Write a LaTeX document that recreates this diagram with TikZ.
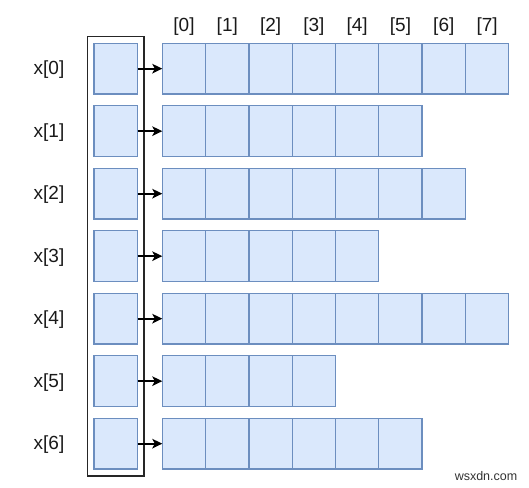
\documentclass[tikz,border=0pt]{standalone}
\usepackage{fontspec}
\setmainfont{Liberation Sans}
\usetikzlibrary{arrows.meta}
\definecolor{cellfill}{HTML}{DAE8FC}
\definecolor{celldraw}{HTML}{6C8EBF}
\tikzset{
  cell/.style={draw=celldraw, fill=cellfill, line width=1.3pt, minimum width=43.3pt, minimum height=50.7pt, inner sep=0pt, outer sep=0pt, anchor=north west},
  ptr/.style={draw=celldraw, fill=cellfill, line width=1.3pt, minimum width=43.7pt, minimum height=50.7pt, inner sep=0pt, outer sep=0pt, anchor=north west},
  frame/.style={draw=black!85, line width=1.4pt, minimum width=56.3pt, minimum height=439.3pt, inner sep=0pt, outer sep=0pt, anchor=north west},
  lbl/.style={font=\fontsize{19}{21}\selectfont, text=black!90, inner sep=0pt},
  ptrarrow/.style={-{Stealth[length=10pt,width=9.5pt,inset=2.5pt]}, line width=2pt, black},
  wm/.style={font=\fontsize{12.5}{14}\selectfont, text=black!80, inner sep=0pt}
}
\begin{document}
\begin{tikzpicture}[x=1pt,y=-1pt]
\useasboundingbox (0,0) rectangle (529,487);
\node[frame] (frame) at (87.7,36.7) {};
\foreach \j in {0,...,7} {
  \node[lbl] (idx\j) at (184+43.3*\j,26.5) {[\j]};
}
\foreach \i/\n in {0/8,1/6,2/7,3/5,4/8,5/4,6/6} {
  \node[lbl] (name\i) at (49,70+62.5*\i) {x[\i]};
  \node[ptr] (p\i) at (94,43.3+62.5*\i) {};
  \pgfmathtruncatemacro{\last}{\n-1}
  \foreach \j in {0,...,\last} {
    \node[cell] (c\i-\j) at (162.3+43.3*\j,43.3+62.5*\i) {};
  }
  \draw[ptrarrow] (p\i.east) -- (c\i-0.west);
}
\node[wm] (wm) at (486,476.5) {wsxdn.com};
\end{tikzpicture}
\end{document}
